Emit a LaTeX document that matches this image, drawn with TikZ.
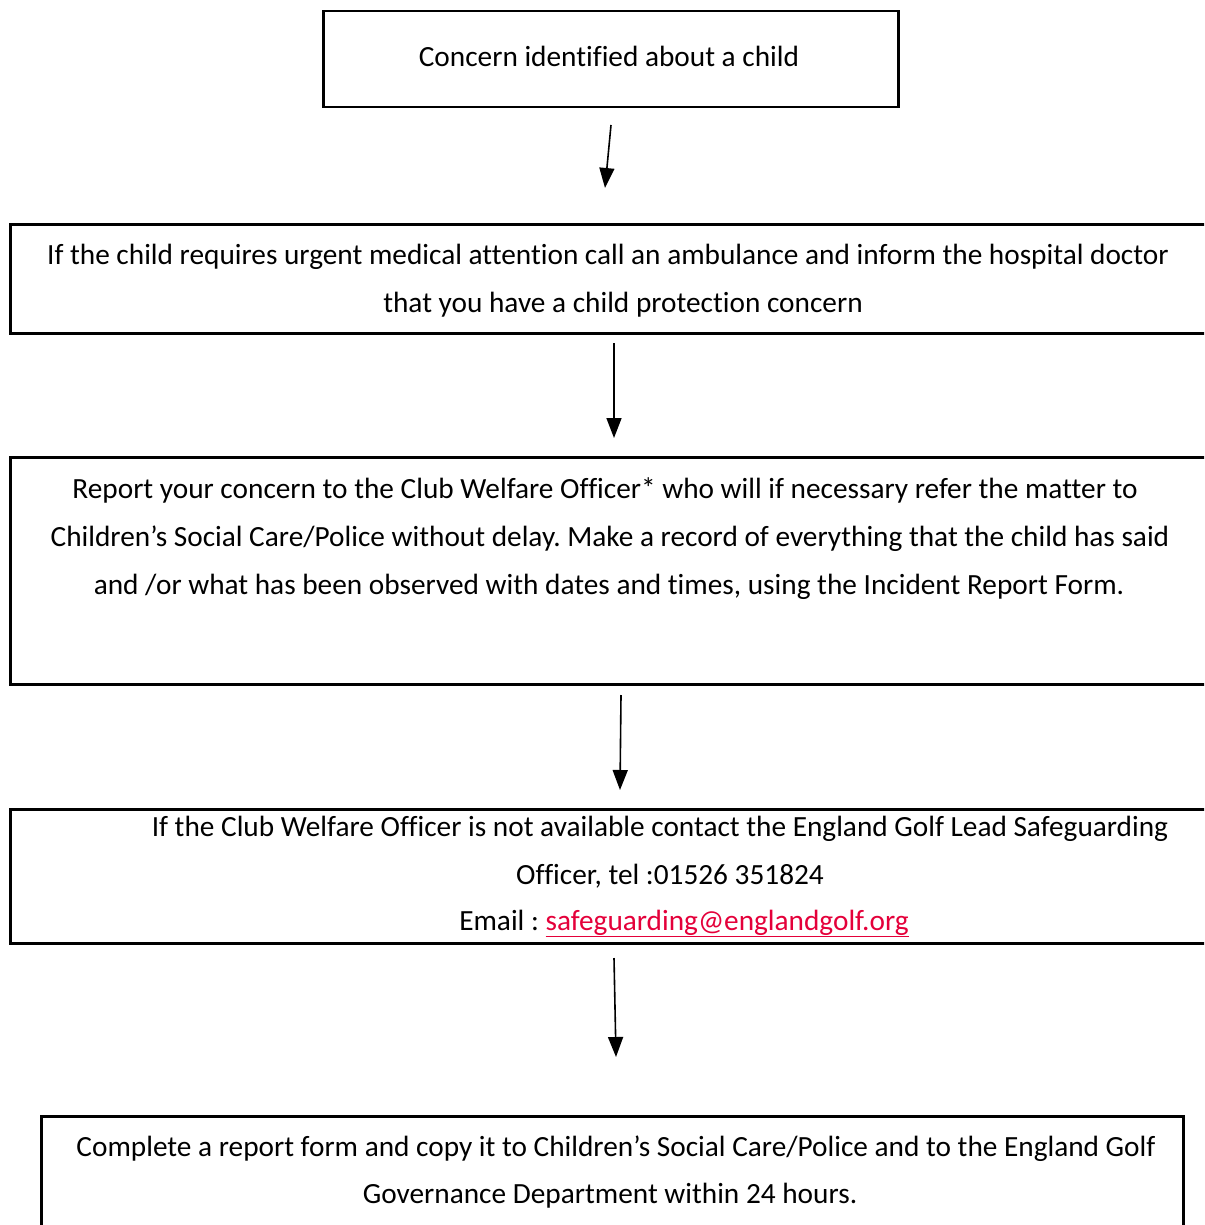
\documentclass[tikz,border=0pt]{standalone}
\usepackage{fontspec}
\setmainfont{Carlito}[Ligatures=NoCommon]
\frenchspacing
\usetikzlibrary{arrows.meta}
\definecolor{linkred}{RGB}{228,0,58}
\tikzset{
  stepbox/.style={draw, line width=2.5pt, inner sep=0pt, anchor=north west},
  txtline/.style={font=\fontsize{29.3}{48}\selectfont, inner sep=0pt, anchor=base},
  flow/.style={line width=1.6pt, -{Triangle[length=20pt,width=15pt]}},
}
\begin{document}
\begin{tikzpicture}[x=1pt,y=-1pt]
	\useasboundingbox (0,0) rectangle (1204,1225);
	\clip (0,0) rectangle (1204,1225);
	% boxes
	\node[stepbox, minimum width=575pt, minimum height=96pt] (concern) at (322,10) {};
	\node[stepbox, minimum width=1230pt, minimum height=109pt] (medical) at (9,223) {};
	\node[stepbox, minimum width=1230pt, minimum height=227pt] (report) at (9,456) {};
	\node[stepbox, minimum width=1230pt, minimum height=134pt] (officer) at (9,808) {};
	\node[stepbox, minimum width=1142pt, minimum height=140pt] (form) at (40,1115) {};
	% texts
	\node[txtline] (concern1) at (609,67) {Concern identified about a child};
	\node[txtline] (medical1) at (608,264) {If the child requires urgent medical attention call an ambulance and inform the hospital doctor};
	\node[txtline] (medical2) at (623,312) {that you have a child protection concern};
	\node[txtline] (report1) at (605,498) {Report your concern to the Club Welfare Officer* who will if necessary refer the matter to};
	\node[txtline] (report2) at (610,546) {Children’s Social Care/Police without delay. Make a record of everything that the child has said};
	\node[txtline] (report3) at (609,594) {and /or what has been observed with dates and times, using the Incident Report Form.};
	\node[txtline] (officer1) at (660,836) {If the Club Welfare Officer is not available contact the England Golf Lead Safeguarding};
	\node[txtline] (officer2) at (670,884) {Officer, tel :01526 351824};
	\node[txtline] (officer3) at (684,930) {Email : \textcolor{linkred}{\underline{safeguarding@englandgolf.org}}};
	\node[txtline] (form1) at (616,1156) {Complete a report form and copy it to Children’s Social Care/Police and to the England Golf};
	\node[txtline] (form2) at (610,1203) {Governance Department within 24 hours.};
	% arrows
	\coordinate (a1s) at (611,125);
	\coordinate (a1e) at (605,188);
	\coordinate (a2s) at (614,343);
	\coordinate (a2e) at (614,438);
	\coordinate (a3s) at (621,695);
	\coordinate (a3e) at (620,790);
	\coordinate (a4s) at (614,958);
	\coordinate (a4e) at (616,1057);
	\draw[flow] (a1s) -- (a1e);
	\draw[flow] (a2s) -- (a2e);
	\draw[flow] (a3s) -- (a3e);
	\draw[flow] (a4s) -- (a4e);
\end{tikzpicture}
\end{document}
